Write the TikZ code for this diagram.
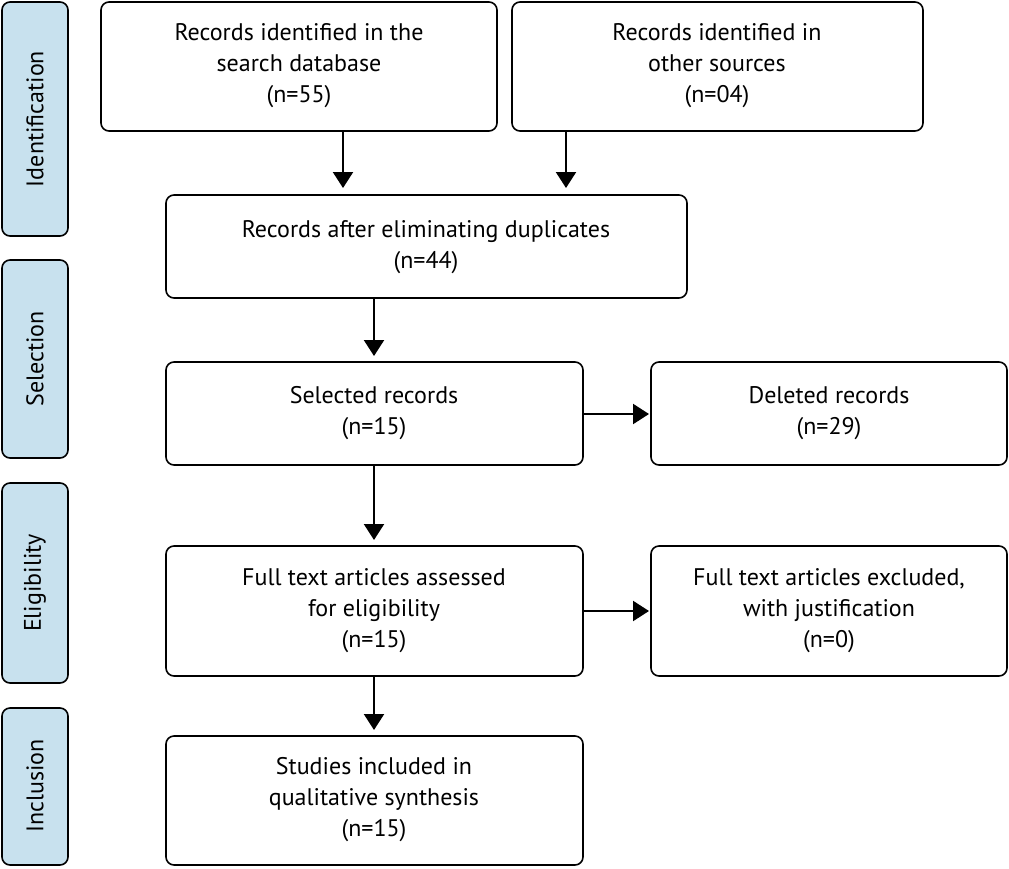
\documentclass[tikz,border=0pt]{standalone}
\usepackage{fontspec}
\setmainfont{PT Sans}
\usetikzlibrary{arrows.meta}
\begin{document}
\begin{tikzpicture}[x=1pt,y=-1pt,
  box/.style={draw,line width=1.6pt,rounded corners=8pt},
  side/.style={draw,line width=1.6pt,rounded corners=8pt,fill={rgb,255:red,200;green,225;blue,238}},
  lbl/.style={font=\fontsize{24}{31}\selectfont,align=center},
  arr/.style={line width=2.2pt,-{Triangle[length=16pt,width=20pt]}}]
\useasboundingbox (0,0) rectangle (1009,868);
% side labels
\draw[side] (2,2) rectangle (68,236);
\node[lbl,rotate=90] (s1) at (35,119) {Identification};
\draw[side] (2,260) rectangle (68,458);
\node[lbl,rotate=90] (s2) at (35,359) {Selection};
\draw[side] (2,483) rectangle (68,683);
\node[lbl,rotate=90] (s3) at (35,583) {Eligibility};
\draw[side] (2,708) rectangle (68,865);
\node[lbl,rotate=90] (s4) at (35,786) {Inclusion};
% boxes
\draw[box] (101,2) rectangle (497,131);
\node[lbl] (a) at (299,66) {Records identified in the\\search database\\(n=55)};
\draw[box] (512,2) rectangle (923,131);
\node[lbl] (b) at (717,66) {Records identified in\\other sources\\(n=04)};
\draw[box] (166,195) rectangle (687,298);
\node[lbl] (c) at (426,247) {Records after eliminating duplicates\\(n=44)};
\draw[box] (166,362) rectangle (583,465);
\node[lbl] (d) at (374,413) {Selected records\\(n=15)};
\draw[box] (651,362) rectangle (1007,465);
\node[lbl] (e) at (829,413) {Deleted records\\(n=29)};
\draw[box] (166,546) rectangle (583,676);
\node[lbl] (f) at (374,611) {Full text articles assessed\\for eligibility\\(n=15)};
\draw[box] (651,546) rectangle (1007,676);
\node[lbl] (g) at (829,611) {Full text articles excluded,\\with justification\\(n=0)};
\draw[box] (166,736) rectangle (583,865);
\node[lbl] (h) at (374,800) {Studies included in\\qualitative synthesis\\(n=15)};
% arrows
\coordinate (a1) at (343,131); \coordinate (a2) at (343,188);
\coordinate (b1) at (566,131); \coordinate (b2) at (566,188);
\coordinate (c1) at (374,298); \coordinate (c2) at (374,356);
\coordinate (d1) at (374,465); \coordinate (d2) at (374,540);
\coordinate (f1) at (374,676); \coordinate (f2) at (374,730);
\coordinate (de1) at (583,414); \coordinate (de2) at (649,414);
\coordinate (fg1) at (583,611); \coordinate (fg2) at (649,611);
\draw[arr] (a1) -- (a2);
\draw[arr] (b1) -- (b2);
\draw[arr] (c1) -- (c2);
\draw[arr] (d1) -- (d2);
\draw[arr] (f1) -- (f2);
\draw[arr] (de1) -- (de2);
\draw[arr] (fg1) -- (fg2);
\end{tikzpicture}
\end{document}
